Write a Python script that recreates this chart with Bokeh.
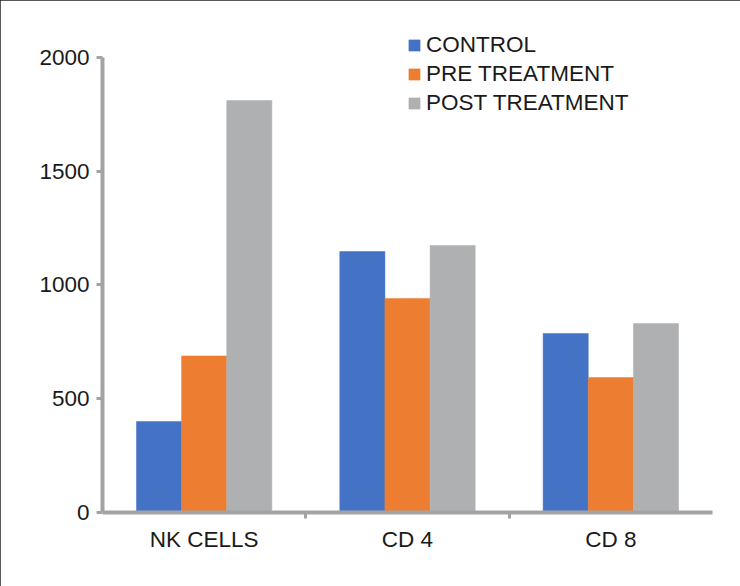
from bokeh.plotting import figure
from bokeh.models import (ColumnDataSource, FactorRange, Range1d,
                          CategoricalAxis, FixedTicker, Legend, LegendItem,
                          CustomLabelingPolicy)
from bokeh.transform import dodge
from bokeh.embed import file_html
from bokeh.resources import INLINE

categories = ["NK CELLS", "CD 4", "CD 8"]
control = [400, 1147, 787]
pre_treatment = [688, 941, 593]
post_treatment = [1811, 1174, 831]
series_names = ["CONTROL", "PRE TREATMENT", "POST TREATMENT"]
y_ticks = [0, 500, 1000, 1500, 2000]

colors = ["#4472C4", "#ED7D31", "#AFB0B2"]
axis_color = "#A3A3A5"
text_color = "#1A1A1A"
font = "Liberation Sans"
fsize = "22.5px"

src = ColumnDataSource(dict(cat=categories, control=control,
                            pre=pre_treatment, post=post_treatment))

p = figure(x_range=FactorRange(*categories), y_range=Range1d(0, 2158),
           width=740, height=586, output_backend="svg", toolbar_location=None,
           x_axis_location=None,
           min_border_left=102, min_border_right=28, min_border_top=21,
           min_border_bottom=74)
p.outline_line_color = None
p.xgrid.visible = False
p.ygrid.visible = False
p.styles = {"outline": "2px solid #222", "outline-offset": "-2px"}

bw = 0.222
fields = ["control", "pre", "post"]
offsets = [-bw, 0, bw]
renderers = []
for f, off, c in zip(fields, offsets, colors):
    r = p.vbar(x=dodge("cat", off, range=p.x_range), top=f, width=bw,
               source=src, fill_color=c, line_color=c, line_width=0.5)
    renderers.append(r)

# y axis
ya = p.yaxis[0]
ya.ticker = FixedTicker(ticks=y_ticks)
ya.bounds = (0, 2000)
ya.axis_line_color = axis_color
ya.axis_line_width = 4
ya.major_tick_line_color = axis_color
ya.major_tick_line_width = 3
ya.major_tick_out = 6
ya.major_tick_in = 0
ya.minor_tick_line_color = None
ya.major_label_text_font = font
ya.major_label_text_font_size = fsize
ya.major_label_text_color = text_color
ya.major_label_standoff = 7

# x axis line with ticks at the category boundaries (no labels)
boundaries = ["b%d" % i for i in range(len(categories) + 1)]
p.extra_x_ranges = {"sep": FactorRange(factors=boundaries, range_padding=-0.5,
                                       range_padding_units="absolute")}
sep_axis = CategoricalAxis(x_range_name="sep")
sep_axis.axis_line_color = axis_color
sep_axis.axis_line_width = 4
sep_axis.major_tick_line_color = axis_color
sep_axis.major_tick_line_width = 3
sep_axis.major_tick_out = 6
sep_axis.major_tick_in = 0
sep_axis.minor_tick_line_color = None
sep_axis.major_label_text_font_size = "0px"
sep_axis.major_label_standoff = 0
sep_axis.major_label_policy = CustomLabelingPolicy(code="return new Set()")
p.add_layout(sep_axis, "below")

cat_axis = CategoricalAxis()
cat_axis.axis_line_color = None
cat_axis.major_tick_line_color = None
cat_axis.minor_tick_line_color = None
cat_axis.major_label_text_font = font
cat_axis.major_label_text_font_size = fsize
cat_axis.major_label_text_color = text_color
cat_axis.major_label_standoff = 2
p.add_layout(cat_axis, "below")

legend = Legend(items=[LegendItem(label=n, renderers=[r])
                       for n, r in zip(series_names, renderers)],
                location=(305, 395))
legend.padding = 0
legend.margin = 0
legend.spacing = 0
legend.border_line_color = None
legend.background_fill_alpha = 0
legend.glyph_width = 14
legend.glyph_height = 14
legend.label_height = 29
legend.label_standoff = 5
legend.label_text_font = font
legend.label_text_font_size = fsize
legend.label_text_color = text_color
p.add_layout(legend, "center")

open("out.html", "w").write(file_html(p, INLINE))
